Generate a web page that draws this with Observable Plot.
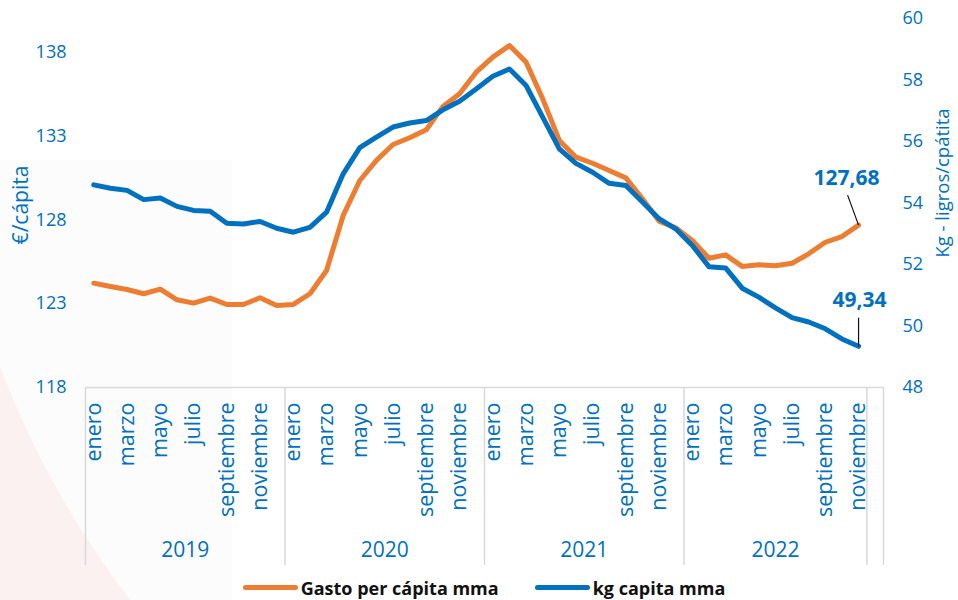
<!DOCTYPE html>
<html>
<head>
<meta charset="utf-8">
<script src="https://cdn.jsdelivr.net/npm/d3@7"></script>
<script src="https://cdn.jsdelivr.net/npm/@observablehq/plot@0.6"></script>
<style>
  html, body { margin: 0; padding: 0; }
  #wrap {
    position: relative; width: 958px; height: 600px; overflow: hidden;
    font-family: "Open Sans", sans-serif;
    background:
      radial-gradient(circle 898px at 841px 51px, rgba(255,255,255,0) 897.5px, #fbf1f1 898.5px),
      linear-gradient(#fcfcfc, #fcfcfc) 0 160px / 232px 440px no-repeat,
      #ffffff;
  }
  #legend {
    height: 25px; display: flex; align-items: center; justify-content: center;
    font-weight: 700; font-size: 18px; color: #111; padding-left: 10px;
  }
  .item { display: flex; align-items: center; }
  .sw { width: 55px; height: 5px; border-radius: 3px; margin-right: 3px; }
</style>
</head>
<body>
<div id="wrap">
  <div id="chart"></div>
  <div id="legend"></div>
</div>
<script>
const months = ["enero","febrero","marzo","abril","mayo","junio","julio","agosto","septiembre","octubre","noviembre","diciembre"];
const years = [2019, 2020, 2021, 2022];
const seriesNames = ["Gasto per cápita mma", "kg capita mma"];
const leftTicks = [118, 123, 128, 133, 138];
const rightTicks = [48, 50, 52, 54, 56, 58, 60];
const leftTitle = "€/cápita";
const rightTitle = "Kg - ligros/cpátita";

// Gasto per cápita (€/cápita), ene 2019 – nov 2022
const gasto = [
  124.22, 124.02, 123.84, 123.59, 123.86, 123.23, 123.03, 123.33, 122.95, 122.95, 123.35, 122.89,
  122.95, 123.59, 124.98, 128.26, 130.34, 131.54, 132.49, 132.89, 133.37, 134.76, 135.51, 136.80,
  137.70, 138.39, 137.40, 135.21, 132.73, 131.73, 131.37, 130.94, 130.50, 129.25, 127.92, 127.52,
  126.77, 125.71, 125.91, 125.22, 125.32, 125.26, 125.41, 125.97, 126.66, 127.00, 127.68
];
// kg per cápita, ene 2019 – nov 2022
const kg = [
  54.59, 54.48, 54.41, 54.11, 54.16, 53.89, 53.76, 53.73, 53.34, 53.32, 53.40, 53.18,
  53.05, 53.21, 53.70, 54.95, 55.80, 56.14, 56.47, 56.60, 56.68, 57.03, 57.31, 57.71,
  58.12, 58.36, 57.82, 56.79, 55.76, 55.29, 55.00, 54.64, 54.57, 54.03, 53.49, 53.16,
  52.62, 51.93, 51.89, 51.23, 50.94, 50.59, 50.27, 50.13, 49.91, 49.58, 49.34
];

const leftDomain = [118, 140];
const rightDomain = [48, 60];
const toLeft = v => leftDomain[0] + (v - rightDomain[0]) * (leftDomain[1] - leftDomain[0]) / (rightDomain[1] - rightDomain[0]);
const fromLeft = v => rightDomain[0] + (v - leftDomain[0]) * (rightDomain[1] - rightDomain[0]) / (leftDomain[1] - leftDomain[0]);

const BLUE = "#0070C0", ORANGE = "#ED7D31", GRID = "#d9d9d9";
const nSlots = years.length * 12;

const data = gasto.map((g, i) => ({i, year: years[Math.floor(i / 12)], month: i % 12, gasto: g, kg: kg[i]}));
const last = data[data.length - 1];

// year groups
const groups = years.map(y => {
  const idx = data.filter(d => d.year === y).map(d => d.i);
  return {year: y, first: d3.min(idx), last: d3.max(idx)};
});
const yearCenters = groups.map(g => (g.first + g.last) / 2);
const dividers = [...groups.map(g => g.first - 0.5), groups[groups.length - 1].last + 0.5, nSlots - 0.5];
const monthTicks = data.filter(d => d.month % 2 === 0).map(d => d.i);

const fmt = v => v.toFixed(2).replace(".", ",");

const chart = Plot.plot({
  width: 958,
  height: 575,
  marginLeft: 85,
  marginRight: 75,
  marginTop: 18,
  marginBottom: 188,
  style: {background: "transparent", fontFamily: "'Open Sans', sans-serif", overflow: "visible"},
  x: {type: "linear", domain: [-0.5, nSlots - 0.5]},
  y: {domain: leftDomain},
  marks: [
    Plot.ruleY([leftDomain[0]], {stroke: GRID, strokeWidth: 1.5}),
    Plot.axisX({ticks: dividers, tickSize: 178, tickFormat: () => "", stroke: GRID, strokeWidth: 1.5, label: null}),
    Plot.axisX({ticks: monthTicks, tickFormat: i => months[i % 12], tickRotate: -90, tickSize: 0, tickPadding: 15, fontSize: 21.5, fill: BLUE, label: null}),
    Plot.axisX({ticks: yearCenters, tickFormat: c => String(groups[yearCenters.indexOf(c)].year), tickSize: 0, tickPadding: 155, fontSize: 21, fill: BLUE, label: null}),
    Plot.axisY({ticks: leftTicks, tickSize: 0, tickPadding: 19, fontSize: 18, fill: BLUE, label: null}),
    Plot.axisY({anchor: "right", ticks: rightTicks.map(toLeft), tickFormat: v => String(Math.round(fromLeft(v))), tickSize: 0, tickPadding: 19, fontSize: 18, fill: BLUE, label: null}),
    Plot.text([leftTitle], {frameAnchor: "left", textAnchor: "middle", dx: -64, dy: 2, rotate: -90, fontSize: 21, fill: BLUE}),
    Plot.text([rightTitle], {frameAnchor: "right", textAnchor: "middle", dx: 60, dy: -20, rotate: -90, fontSize: 18.5, fill: BLUE}),
    Plot.line(data, {x: "i", y: "gasto", stroke: ORANGE, strokeWidth: 5, strokeLinejoin: "round", strokeLinecap: "round"}),
    Plot.line(data, {x: "i", y: d => toLeft(d.kg), stroke: BLUE, strokeWidth: 5, strokeLinejoin: "round", strokeLinecap: "round"}),
    Plot.link([last], {x1: "i", y1: "gasto", x2: d => d.i - 0.66, y2: d => d.gasto + 1.79, stroke: "#111", strokeWidth: 1.2}),
    Plot.link([last], {x1: "i", y1: d => toLeft(d.kg), x2: "i", y2: d => toLeft(d.kg + 0.93), stroke: "#111", strokeWidth: 1.2}),
    Plot.text([last], {x: "i", y: "gasto", text: d => fmt(d.gasto), dx: -12, dy: -47, fontSize: 21, fontWeight: "bold", fill: BLUE}),
    Plot.text([last], {x: "i", y: d => toLeft(d.kg), text: d => fmt(d.kg), dx: 1, dy: -46, fontSize: 21, fontWeight: "bold", fill: BLUE})
  ]
});
document.getElementById("chart").appendChild(chart);

const legend = document.getElementById("legend");
[[seriesNames[0], ORANGE], [seriesNames[1], BLUE]].forEach(([name, color], k) => {
  const it = document.createElement("div");
  it.className = "item";
  if (k > 0) it.style.marginLeft = "36px";
  const sw = document.createElement("div");
  sw.className = "sw";
  sw.style.background = color;
  const tx = document.createElement("span");
  tx.textContent = name;
  it.appendChild(sw); it.appendChild(tx);
  legend.appendChild(it);
});
</script>
</body>
</html>
